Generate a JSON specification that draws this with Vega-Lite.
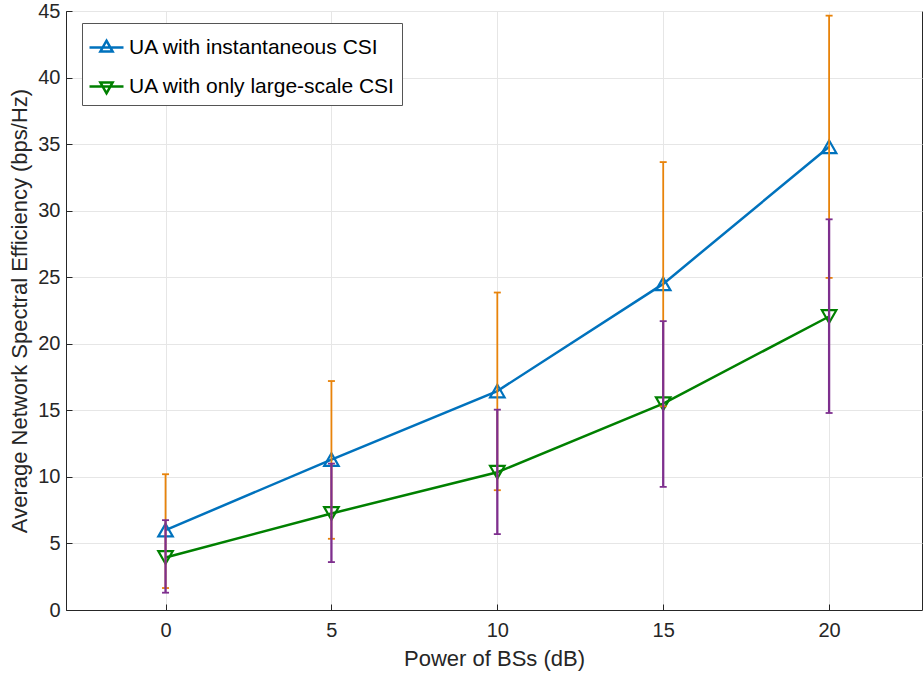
{
  "$schema": "https://vega.github.io/schema/vega-lite/v6.json",
  "autosize": "none",
  "width": 856,
  "height": 599,
  "padding": {"left": 66, "top": 11, "right": 1, "bottom": 63},
  "background": "white",
  "config": {
    "font": "Liberation Sans",
    "view": {"stroke": "#262626", "strokeWidth": 1},
    "axis": {
      "labelFont": "Liberation Sans",
      "titleFont": "Liberation Sans",
      "labelFontSize": 20,
      "titleFontSize": 22,
      "labelColor": "#262626",
      "titleColor": "#262626",
      "titleFontWeight": "normal",
      "domainColor": "#262626",
      "tickColor": "#262626",
      "gridColor": "#e6e6e6",
      "gridWidth": 1,
      "tickSize": -6,
      "domainWidth": 1
    }
  },
  "datasets": {
    "d": [
      {"x": 0, "series": "UA with instantaneous CSI", "y": 6.0, "lo": 1.65, "hi": 10.2},
      {"x": 5, "series": "UA with instantaneous CSI", "y": 11.3, "lo": 5.35, "hi": 17.2},
      {"x": 10, "series": "UA with instantaneous CSI", "y": 16.45, "lo": 9.0, "hi": 23.85},
      {"x": 15, "series": "UA with instantaneous CSI", "y": 24.5, "lo": 15.3, "hi": 33.65},
      {"x": 20, "series": "UA with instantaneous CSI", "y": 34.8, "lo": 24.95, "hi": 44.65},
      {"x": 0, "series": "UA with only large-scale CSI", "y": 3.95, "lo": 1.3, "hi": 6.75},
      {"x": 5, "series": "UA with only large-scale CSI", "y": 7.25, "lo": 3.6, "hi": 11.0},
      {"x": 10, "series": "UA with only large-scale CSI", "y": 10.35, "lo": 5.7, "hi": 15.05},
      {"x": 15, "series": "UA with only large-scale CSI", "y": 15.5, "lo": 9.25, "hi": 21.7},
      {"x": 20, "series": "UA with only large-scale CSI", "y": 22.05, "lo": 14.8, "hi": 29.35}
    ]
  },
  "data": {"name": "d"},
  "layer": [
    {
      "mark": {"type": "line", "strokeWidth": 2.5},
      "encoding": {
        "x": {"field": "x", "type": "quantitative", "scale": {"domain": [-3, 22.8], "nice": false, "zero": false},
              "axis": {"values": [0, 5, 10, 15, 20], "title": "Power of BSs (dB)", "titlePadding": 8, "labelPadding": 16}},
        "y": {"field": "y", "type": "quantitative", "scale": {"domain": [0, 45], "nice": false},
              "axis": {"values": [0, 5, 10, 15, 20, 25, 30, 35, 40, 45], "title": "Average Network Spectral Efficiency (bps/Hz)", "titlePadding": 6, "labelPadding": 12}},
        "color": {"field": "series", "type": "nominal",
          "scale": {"domain": ["UA with instantaneous CSI", "UA with only large-scale CSI"], "range": ["#0072BD", "#008000"]},
          "legend": {
            "title": null,
            "orient": "none",
            "legendX": 16,
            "legendY": 12,
            "labelFontSize": 21,
            "labelFont": "Liberation Sans",
            "labelColor": "#000000",
            "labelOffset": 4,
            "labelLimit": 400,
            "symbolSize": 1156,
            "symbolStrokeWidth": 2.5,
            "rowPadding": 10,
            "padding": 6,
            "strokeColor": "#555555",
            "fillColor": "white",
            "encode": {
              "symbols": {
                "update": {
                  "shape": {"signal": "datum.value === 'UA with instantaneous CSI' ? 'M-1,0L1,0M0,-0.4L0.36,0.24L-0.36,0.24Z' : 'M-1,0L1,0M0,0.4L0.36,-0.24L-0.36,-0.24Z'"},
                  "fill": {"value": "transparent"},
                  "strokeWidth": {"value": 2.5}
                }
              }
            }
          }
        }
      }
    },
    {
      "transform": [{"filter": "datum.series === 'UA with instantaneous CSI'"}],
      "mark": {"type": "point", "shape": "triangle-up", "filled": false, "strokeWidth": 2.2, "size": 210, "opacity": 1},
      "encoding": {
        "x": {"field": "x", "type": "quantitative"},
        "y": {"field": "y", "type": "quantitative"},
        "color": {"field": "series", "type": "nominal", "legend": null}
      }
    },
    {
      "transform": [{"filter": "datum.series === 'UA with only large-scale CSI'"}],
      "mark": {"type": "point", "shape": "triangle-down", "filled": false, "strokeWidth": 2.2, "size": 210, "opacity": 1},
      "encoding": {
        "x": {"field": "x", "type": "quantitative"},
        "y": {"field": "y", "type": "quantitative"},
        "color": {"field": "series", "type": "nominal", "legend": null}
      }
    },
    {
      "transform": [{"filter": "datum.series === 'UA with instantaneous CSI'"}],
      "layer": [
        {
          "mark": {"type": "rule", "color": "#E8830A", "strokeWidth": 1.8},
          "encoding": {
            "x": {"field": "x", "type": "quantitative"},
            "y": {"field": "lo", "type": "quantitative"},
            "y2": {"field": "hi"}
          }
        },
        {
          "mark": {"type": "tick", "color": "#E8830A", "orient": "horizontal", "size": 7, "thickness": 1.8, "opacity": 1},
          "encoding": {
            "x": {"field": "x", "type": "quantitative"},
            "y": {"field": "lo", "type": "quantitative"}
          }
        },
        {
          "mark": {"type": "tick", "color": "#E8830A", "orient": "horizontal", "size": 7, "thickness": 1.8, "opacity": 1},
          "encoding": {
            "x": {"field": "x", "type": "quantitative"},
            "y": {"field": "hi", "type": "quantitative"}
          }
        }
      ]
    },
    {
      "transform": [{"filter": "datum.series === 'UA with only large-scale CSI'"}],
      "layer": [
        {
          "mark": {"type": "rule", "color": "#7E2F8E", "strokeWidth": 2.3},
          "encoding": {
            "x": {"field": "x", "type": "quantitative"},
            "y": {"field": "lo", "type": "quantitative"},
            "y2": {"field": "hi"}
          }
        },
        {
          "mark": {"type": "tick", "color": "#7E2F8E", "orient": "horizontal", "size": 7, "thickness": 1.8, "opacity": 1},
          "encoding": {
            "x": {"field": "x", "type": "quantitative"},
            "y": {"field": "lo", "type": "quantitative"}
          }
        },
        {
          "mark": {"type": "tick", "color": "#7E2F8E", "orient": "horizontal", "size": 7, "thickness": 1.8, "opacity": 1},
          "encoding": {
            "x": {"field": "x", "type": "quantitative"},
            "y": {"field": "hi", "type": "quantitative"}
          }
        }
      ]
    }
  ]
}
